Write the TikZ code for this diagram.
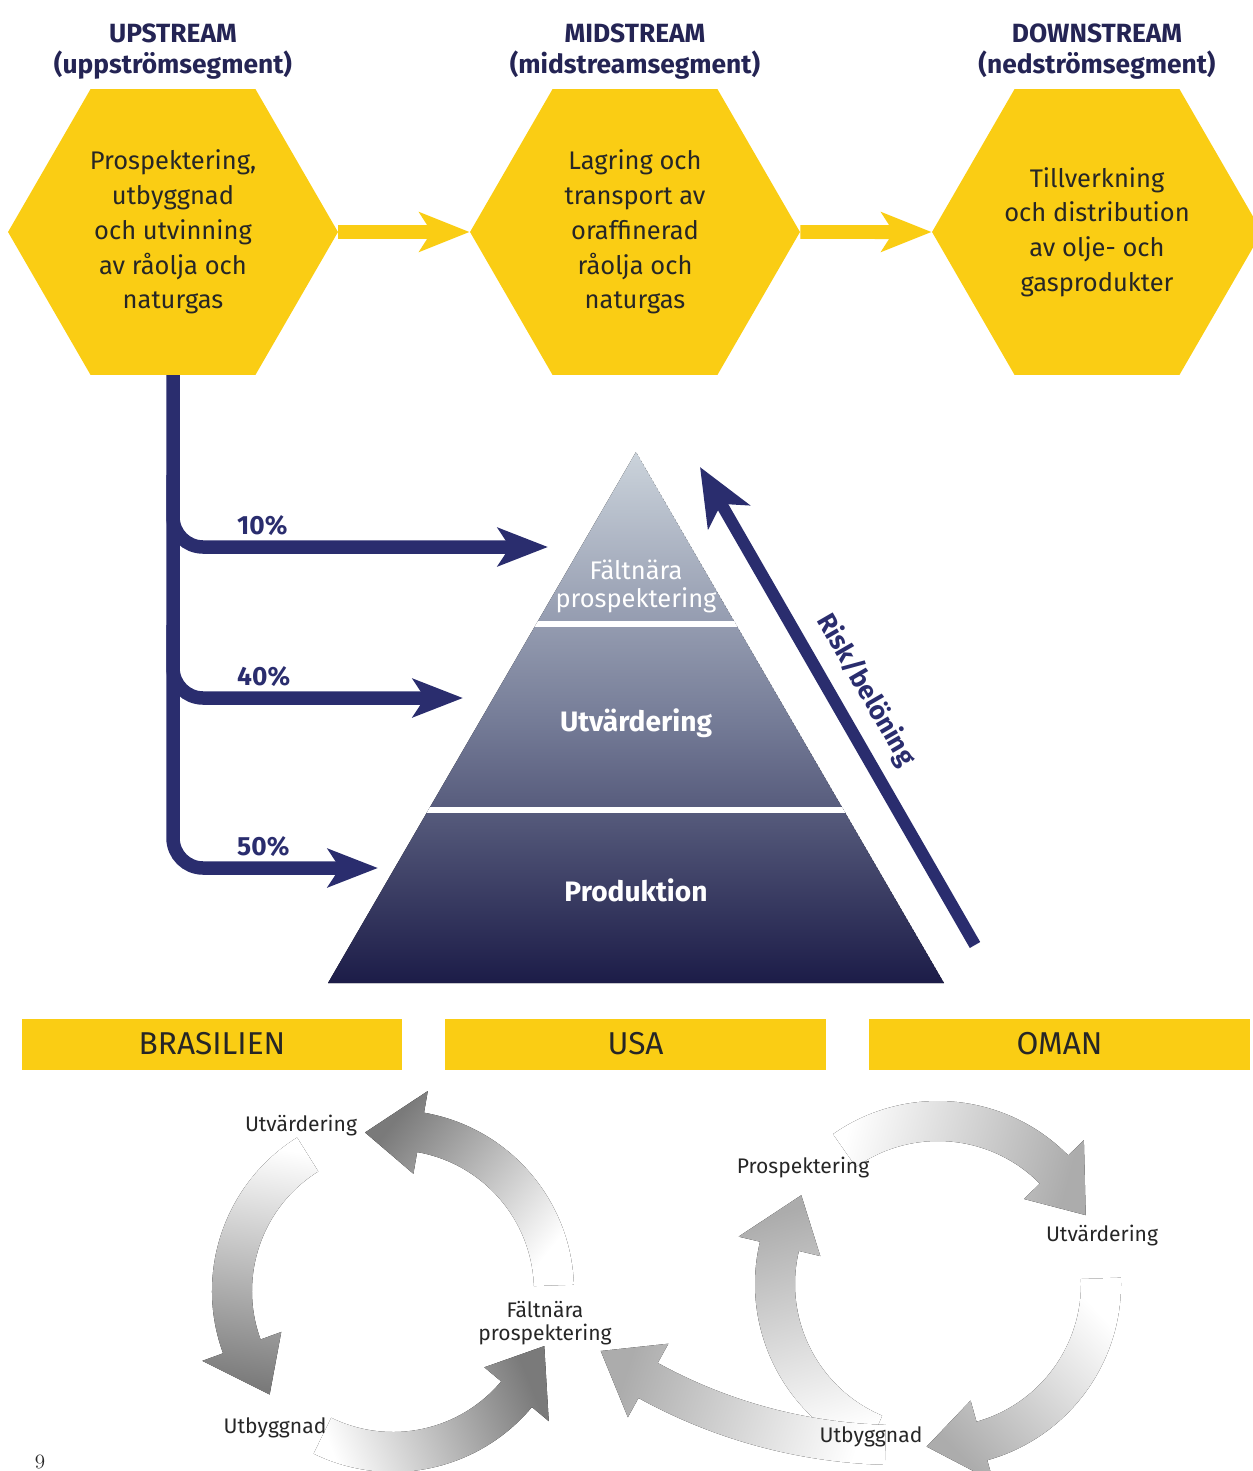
\documentclass[tikz,border=0pt]{standalone}
\usepackage{fontspec}
\setmainfont{Fira Sans}
\usetikzlibrary{arrows.meta,calc,shapes.geometric}

\definecolor{gelb}{RGB}{250,205,20}
\definecolor{marin}{RGB}{42,45,110}
\definecolor{rubrikfarg}{RGB}{36,36,84}
\definecolor{brodtext}{RGB}{38,38,38}
\definecolor{pyrtop}{RGB}{203,211,219}
\definecolor{pyrmid}{RGB}{118,125,152}
\definecolor{pyrbot}{RGB}{28,28,72}
\definecolor{cykelmork}{RGB}{122,122,122}
\definecolor{cykelljus}{RGB}{172,172,172}

\tikzset{
  hexagon/.style={regular polygon, regular polygon sides=6, fill=gelb, minimum size=6.6cm, inner sep=0pt,
    align=center, text=brodtext, font=\fontsize{14.5}{19.8}\selectfont},
  rubrik/.style={align=center, text=rubrikfarg, font=\bfseries\fontsize{15}{17.6}\selectfont},
  gulpil/.style={draw=gelb, line width=0.28cm, -{Stealth[length=1cm, width=0.78cm, inset=0.24cm]}},
  marinpil/.style={draw=marin, line width=0.27cm, rounded corners=0.6cm, -{Stealth[length=1cm, width=0.76cm, inset=0.24cm]}},
  procent/.style={anchor=base west, text=marin, font=\bfseries\fontsize{15}{18}\selectfont},
  niva/.style={text=white, align=center},
  land/.style={fill=gelb, minimum width=7.62cm, minimum height=1.02cm, inner sep=0pt, text=brodtext,
    font=\fontsize{18}{20}\selectfont},
  cykeltext/.style={text=brodtext, align=center, font=\fontsize{12}{13.5}\selectfont}
}

\newcommand\rundpil[5]{%
  \pgfmathsetmacro\riktning{sign(#3-#2)}%
  \pgfmathsetmacro\huvud{#3-(\riktning)*3200/#4}%
  \pgfmathsetmacro\skugga{(#2+#3)/2+(\riktning)*90-270}%
  \pgfmathsetmacro\ryttre{#4+20}\pgfmathsetmacro\rinre{#4-20}%
  \pgfmathsetmacro\rspets{#4+42}\pgfmathsetmacro\rbak{#4-42}%
  \fill[top color=white, bottom color=#5, shading angle=\skugga]
    ($(#1)+(#2:\ryttre)$) arc[start angle=#2, end angle=\huvud, radius=\ryttre]
    -- ($(#1)+(\huvud:\rspets)$) -- ($(#1)+(#3:#4)$) -- ($(#1)+(\huvud:\rbak)$)
    -- ($(#1)+(\huvud:\rinre)$) arc[start angle=\huvud, end angle=#2, radius=\rinre] -- cycle;}

\begin{document}
\begin{tikzpicture}[x=0.02cm, y=0.02cm]
  \useasboundingbox (0,0) rectangle (1252,-1471);

  \node[hexagon] (upstream) at (173,-232) {Prospektering,\\utbyggnad\\och utvinning\\av råolja och\\naturgas};
  \node[hexagon] (midstream) at (635,-232) {Lagring och\\transport av\\oraffinerad\\råolja och\\naturgas};
  \node[hexagon] (downstream) at (1097,-232) {Tillverkning\\och distribution\\av olje- och\\gasprodukter};
  \node[rubrik] (uptitel) at (173,-52) {UPSTREAM\\(uppströmsegment)};
  \node[rubrik] (midtitel) at (635,-52) {MIDSTREAM\\(midstreamsegment)};
  \node[rubrik] (downtitel) at (1097,-52) {DOWNSTREAM\\(nedströmsegment)};
  \draw[gulpil] (upstream.east) -- (midstream.west);
  \draw[gulpil] (midstream.east) -- (downstream.west);

  \coordinate (topp) at (636,-452);
  \coordinate (vbas) at (328,-983);
  \coordinate (hbas) at (944,-983);
  \begin{scope}
    \clip (topp) -- (hbas) -- (vbas) -- cycle;
    \fill[top color=pyrtop, bottom color=pyrbot, middle color=pyrmid] (topp) -- (hbas) -- (vbas) -- cycle;
    \foreach \y in {-624,-810}
      \draw[white, line width=0.12cm] (300,\y) -- (980,\y);
  \end{scope}
  \node[niva, font=\fontsize{14.5}{16}\selectfont] (faltnara) at (636,-586) {Fältnära\\prospektering};
  \node[niva, anchor=base, font=\bfseries\fontsize{16}{18}\selectfont] (utvardering) at (636,-731) {Utvärdering};
  \node[niva, anchor=base, font=\bfseries\fontsize{16}{18}\selectfont] (produktion) at (636,-901) {Produktion};

  \coordinate (p10) at (548,-547);
  \coordinate (p40) at (463,-698);
  \coordinate (p50) at (378,-868);
  \draw[marinpil] (upstream.south) |- (p50);
  \draw[marinpil] ($(upstream.south)+(0,-100)$) |- (p10);
  \draw[marinpil] ($(upstream.south)+(0,-250)$) |- (p40);
  \node[procent] (tio) at (231,-534) {10\%};
  \node[procent] (fyrtio) at (231,-685) {40\%};
  \node[procent] (femtio) at (231,-855) {50\%};

  \coordinate (riskfot) at (975,-945);
  \coordinate (risktopp) at (700,-467);
  \draw[marin, line width=0.24cm, -{Stealth[length=1.15cm, width=0.95cm, inset=0.3cm]}] (riskfot) -- (risktopp);
  \node[rotate=-60, text=marin, font=\bfseries\fontsize{15}{18}\selectfont] (risk) at (866,-690) {Risk/belöning};

  \node[land] (brasilien) at (212,-1044) {BRASILIEN};
  \node[land] (usa) at (635.5,-1044) {USA};
  \node[land] (oman) at (1059.5,-1044) {OMAN};

  \coordinate (vcykel) at (393,-1291);
  \coordinate (hcykel) at (938,-1284);
  \coordinate (bage) at (899,-925);
  \foreach \svans/\spets in {2/100,122/220,244/340}
    \rundpil{vcykel}{\svans}{\spets}{161}{cykelmork};
  \foreach \svans/\spets in {125/25,2/-94,247/147}
    \rundpil{hcykel}{\svans}{\spets}{163}{cykelljus};
  \rundpil{bage}{268.5}{235}{520}{cykelljus}

  \node[cykeltext, anchor=base] (vutv) at (301,-1131) {Utvärdering};
  \node[cykeltext, anchor=base] (vutb) at (275,-1433) {Utbyggnad};
  \node[cykeltext] (vfalt) at (545,-1323) {Fältnära\\prospektering};
  \node[cykeltext, anchor=base] (hpro) at (803,-1173) {Prospektering};
  \node[cykeltext, anchor=base] (hutv) at (1102,-1241) {Utvärdering};
  \node[cykeltext, anchor=base] (hutb) at (871,-1442) {Utbyggnad};
  \node[anchor=base, text=brodtext, font=\usefont{OML}{cmm}{m}{it}\fontsize{13}{15}\selectfont] (sida) at (40,-1464) {9};
\end{tikzpicture}
\end{document}
